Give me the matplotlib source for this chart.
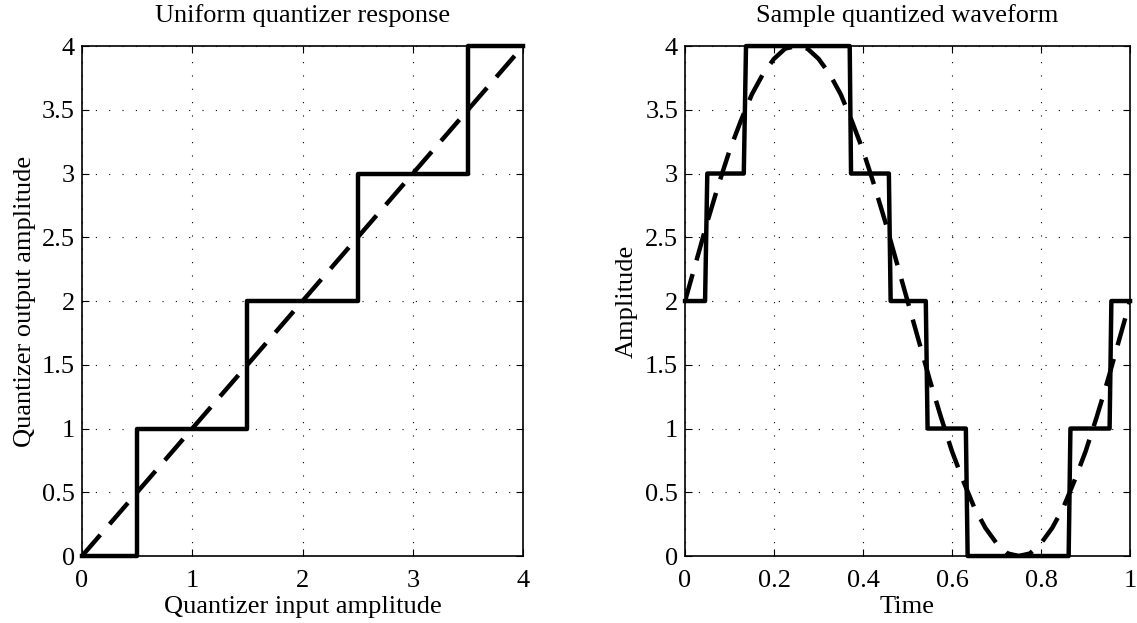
#!/usr/bin/env python3
"""Uniform quantizer response and a sample quantized waveform."""
import matplotlib

matplotlib.use("Agg")
import matplotlib.pyplot as plt
from matplotlib.ticker import FormatStrFormatter, MultipleLocator

plt.rcParams["font.family"] = ["Liberation Serif", "DejaVu Serif"]
plt.rcParams["font.size"] = 19

# left panel: staircase quantizer (corner points) and ideal line
q_in = [0, 0.5, 0.5, 1.5, 1.5, 2.5, 2.5, 3.5, 3.5, 4]
q_out = [0, 0, 1, 1, 2, 2, 3, 3, 4, 4]
ideal_in = [0, 4]
ideal_out = [0, 4]

# right panel: quantized waveform (corner points)
step_t = [0, 0.045, 0.050, 0.132, 0.137, 0.370, 0.373, 0.458, 0.462,
          0.541, 0.545, 0.631, 0.635, 0.862, 0.866, 0.954, 0.958, 1.0]
step_v = [2, 2, 3, 3, 4, 4, 3, 3, 2, 2, 1, 1, 0, 0, 1, 1, 2, 2]

# dashed analog waveform, sampled every 0.025 s
wave_t = [i * 0.025 for i in range(41)]
wave_v = [2.00, 2.31, 2.62, 2.91, 3.18, 3.41, 3.62, 3.78, 3.90, 3.98, 4.00,
          3.98, 3.90, 3.78, 3.62, 3.41, 3.18, 2.91, 2.62, 2.31, 2.00,
          1.69, 1.38, 1.09, 0.82, 0.59, 0.38, 0.22, 0.10, 0.02, 0.00,
          0.02, 0.10, 0.22, 0.38, 0.59, 0.82, 1.09, 1.38, 1.69, 2.00]

fig = plt.figure(figsize=(11.37, 6.23), dpi=100)
ax1 = fig.add_axes([0.0721, 0.1075, 0.388, 0.8186])
ax2 = fig.add_axes([0.6025, 0.1075, 0.3914, 0.8186])


def style(ax, xmax, xstep):
    ax.set_xlim(0, xmax)
    ax.set_ylim(0, 4)
    ax.xaxis.set_major_locator(MultipleLocator(xstep))
    ax.yaxis.set_major_locator(MultipleLocator(0.5))
    ax.xaxis.set_major_formatter(FormatStrFormatter("%g"))
    ax.yaxis.set_major_formatter(FormatStrFormatter("%g"))
    ax.tick_params(direction="in", top=True, right=True, length=5, width=0.8)
    ax.tick_params(axis="x", pad=10)
    ax.tick_params(axis="y", pad=5)
    ax.grid(True, linestyle=(0, (1, 11)), color="black", linewidth=0.8)
    for s in ax.spines.values():
        s.set_linewidth(1.2)


ax1.plot(q_in, q_out, color="black", lw=3.2, clip_on=False, zorder=3)
ax1.plot(ideal_in, ideal_out, color="black", lw=3.2, dashes=(6.3, 3.2), zorder=3)
style(ax1, 4, 1)
ax1.set_title("Uniform quantizer response", fontsize=19, pad=17)
ax1.set_xlabel("Quantizer input amplitude", labelpad=3)
ax1.set_ylabel("Quantizer output amplitude", labelpad=4)

ax2.plot(step_t, step_v, color="black", lw=3.2, clip_on=False, zorder=3)
ax2.plot(wave_t, wave_v, color="black", lw=3.2, dashes=(6.3, 3.2), zorder=3)
style(ax2, 1, 0.2)
ax2.set_title("Sample quantized waveform", fontsize=19, pad=17)
ax2.set_xlabel("Time", labelpad=3)
ax2.set_ylabel("Amplitude", labelpad=5)

fig.savefig("out.png", dpi=100)
